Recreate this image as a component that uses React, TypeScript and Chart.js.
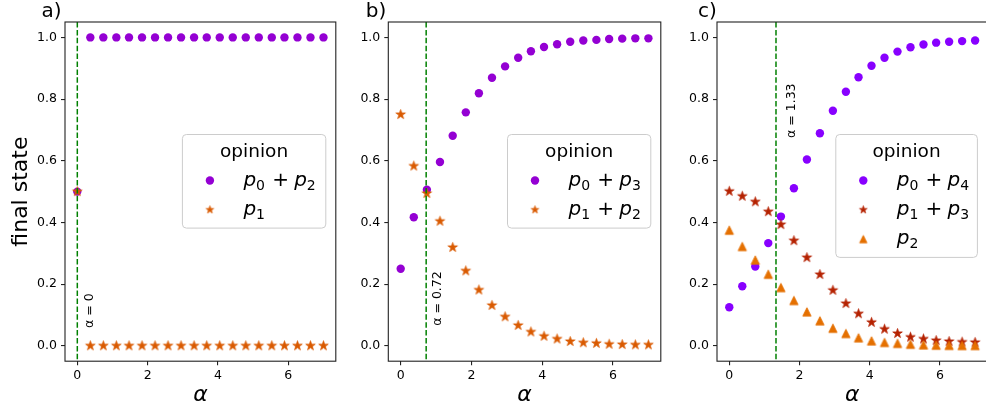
import React, { useEffect, useRef } from "react";
import { Chart, registerables } from "chart.js";
Chart.register(...registerables);

const FONT = '"DejaVu Sans", "Liberation Sans", sans-serif';

// ---- data ----
const ALPHA = [0, 0.37, 0.74, 1.11, 1.47, 1.84, 2.21, 2.58, 2.95, 3.32, 3.68, 4.05, 4.42, 4.79, 5.16, 5.53, 5.89, 6.26, 6.63, 7.0];

const A_P0_P2 = [0.5, 1, 1, 1, 1, 1, 1, 1, 1, 1, 1, 1, 1, 1, 1, 1, 1, 1, 1, 1];
const A_P1 = [0.5, 0, 0, 0, 0, 0, 0, 0, 0, 0, 0, 0, 0, 0, 0, 0, 0, 0, 0, 0];

const B_P0_P3 = [0.25, 0.417, 0.506, 0.596, 0.681, 0.757, 0.819, 0.869, 0.906, 0.934, 0.955, 0.969, 0.978, 0.986, 0.99, 0.992, 0.995, 0.996, 0.997, 0.997];
const B_P1_P2 = [0.75, 0.583, 0.494, 0.404, 0.319, 0.243, 0.181, 0.131, 0.094, 0.066, 0.045, 0.031, 0.022, 0.014, 0.01, 0.008, 0.005, 0.004, 0.003, 0.003];

const C_P0_P4 = [0.125, 0.193, 0.257, 0.333, 0.419, 0.511, 0.604, 0.689, 0.762, 0.824, 0.871, 0.908, 0.934, 0.954, 0.968, 0.977, 0.983, 0.986, 0.988, 0.99];
const C_P1_P3 = [0.501, 0.485, 0.467, 0.435, 0.393, 0.341, 0.286, 0.231, 0.18, 0.137, 0.104, 0.076, 0.054, 0.04, 0.028, 0.022, 0.017, 0.014, 0.012, 0.011];
const C_P2 = [0.375, 0.322, 0.278, 0.232, 0.189, 0.147, 0.11, 0.081, 0.057, 0.04, 0.026, 0.016, 0.011, 0.008, 0.005, 0.003, 0.002, 0.0015, 0.001, 0.001];

const X_TICKS = [0, 2, 4, 6];
const Y_TICKS = [0, 0.2, 0.4, 0.6, 0.8, 1.0];
const X_MIN = -0.35;
const X_MAX = 7.35;
const Y_MIN = -0.05;
const Y_MAX = 1.05;

const VLINES = [0, 0.72, 1.33];
const VLINE_LABELS = ["α = 0", "α = 0.72", "α = 1.33"];
const VLINE_TEXT_X = [0.35, 1.06, 1.78];
const VLINE_TEXT_Y = [0.058, 0.065, 0.674];

const PANEL_LABELS = ["a)", "b)", "c)"];
const LEGEND_TITLE = "opinion";
const LEGEND_A = ["p_0 + p_2", "p_1"];
const LEGEND_B = ["p_0 + p_3", "p_1 + p_2"];
const LEGEND_C = ["p_0 + p_4", "p_1 + p_3", "p_2"];

const PURPLE_AB = "#9400D3";
const ORANGE_AB = "#D95A00";
const PURPLE_C = "#8800FF";
const RED_C = "#B52200";
const ORANGE_C = "#E57000";

type Marker = "circle" | "star" | "triangle";
type SeriesSpec = { values: number[]; color: string; marker: Marker; order: number };

function markerCanvas(kind: Marker, color: string, r: number) {
  const s = Math.ceil(r * 2 + 3);
  const c = document.createElement("canvas");
  c.width = s;
  c.height = s;
  const g = c.getContext("2d")!;
  const cx = s / 2;
  const cy = s / 2;
  g.beginPath();
  if (kind === "star") {
    for (let k = 0; k < 10; k++) {
      const rad = k % 2 === 0 ? r : r * 0.381966;
      const a = -Math.PI / 2 + (k * Math.PI) / 5;
      g.lineTo(cx + rad * Math.cos(a), cy + rad * Math.sin(a));
    }
  } else if (kind === "triangle") {
    g.moveTo(cx, cy - r);
    g.lineTo(cx - r, cy + r);
    g.lineTo(cx + r, cy + r);
  } else {
    g.arc(cx, cy, r, 0, Math.PI * 2);
  }
  g.closePath();
  g.fillStyle = color;
  g.fill();
  g.strokeStyle = color;
  g.lineWidth = 0.8;
  g.stroke();
  return c;
}

function drawMath(ctx: CanvasRenderingContext2D, text: string, x: number, y: number, size: number) {
  const terms = text.split(" + ");
  let cx = x;
  terms.forEach((t, i) => {
    if (i > 0) {
      ctx.font = `${size}px ${FONT}`;
      cx += size * 0.36;
      ctx.fillText("+", cx, y);
      cx += ctx.measureText("+").width + size * 0.26;
    }
    const [base, sub] = t.split("_");
    ctx.font = `italic ${size}px ${FONT}`;
    ctx.fillText(base, cx, y);
    cx += ctx.measureText(base).width;
    if (sub) {
      const ss = size * 0.7;
      ctx.font = `${ss}px ${FONT}`;
      ctx.fillText(sub, cx, y + size * 0.2);
      cx += ctx.measureText(sub).width;
    }
  });
}

type PanelProps = {
  idx: number;
  left: number;
  width: number;
  yW: number;
  padR: number;
  labelDx: number;
  legendW: number;
  series: SeriesSpec[];
  legend: string[];
};

function Panel(p: PanelProps) {
  const ref = useRef<HTMLCanvasElement>(null);
  useEffect(() => {
    const idx = p.idx;
    const images = p.series.map((s) =>
      s.marker === "circle" ? "circle" : markerCanvas(s.marker, s.color, s.marker === "star" ? 5 : 4.2)
    );
    const legendImages = p.series.map((s) =>
      s.marker === "circle" ? null : markerCanvas(s.marker, s.color, s.marker === "star" ? 4 : 3.7)
    );
    const overlay = {
      id: "overlay" + idx,
      afterDatasetsDraw(chart: any) {
        const { ctx, chartArea: ca, scales } = chart;
        const x = scales.x;
        const y = scales.y;
        const lx = x.getPixelForValue(VLINES[idx]);
        ctx.save();
        ctx.beginPath();
        ctx.rect(ca.left, ca.top, ca.right - ca.left, ca.bottom - ca.top);
        ctx.clip();
        ctx.strokeStyle = "#008000";
        ctx.lineWidth = 1.5;
        ctx.setLineDash([5.5, 2.4]);
        ctx.beginPath();
        ctx.moveTo(lx, ca.top);
        ctx.lineTo(lx, ca.bottom);
        ctx.stroke();
        ctx.restore();

        ctx.save();
        ctx.translate(x.getPixelForValue(VLINE_TEXT_X[idx]), y.getPixelForValue(VLINE_TEXT_Y[idx]));
        ctx.rotate(-Math.PI / 2);
        ctx.font = `12.5px ${FONT}`;
        ctx.fillStyle = "#000";
        ctx.textAlign = "left";
        ctx.textBaseline = "middle";
        ctx.fillText(VLINE_LABELS[idx], 0, 0);
        ctx.restore();
      },
      afterDraw(chart: any) {
        const { ctx, chartArea: ca } = chart;
        ctx.save();
        // frame
        ctx.strokeStyle = "#222";
        ctx.lineWidth = 1.1;
        ctx.strokeRect(ca.left, ca.top, ca.right - ca.left, ca.bottom - ca.top);

        // panel label
        ctx.font = `20px ${FONT}`;
        ctx.fillStyle = "#000";
        ctx.textAlign = "left";
        ctx.textBaseline = "alphabetic";
        ctx.fillText(PANEL_LABELS[idx], ca.left + p.labelDx, 17);

        // legend
        const n = p.legend.length;
        const bw = p.legendW;
        const bh = 35 + n * 29.3;
        const bx = ca.right - 10 - bw;
        const by = 134.5;
        ctx.beginPath();
        (ctx as any).roundRect(bx, by, bw, bh, 4);
        ctx.fillStyle = "rgba(255,255,255,0.8)";
        ctx.fill();
        ctx.strokeStyle = "#cccccc";
        ctx.lineWidth = 1;
        ctx.stroke();

        ctx.fillStyle = "#000";
        ctx.font = `18.5px ${FONT}`;
        ctx.textAlign = "center";
        ctx.fillText(LEGEND_TITLE, bx + bw / 2, by + 22.5);
        ctx.textAlign = "left";
        p.legend.forEach((lab, i) => {
          const my = by + 46 + i * 29.3;
          const mx = bx + 27.5;
          const s = p.series[i];
          const img = legendImages[i];
          if (img) {
            ctx.drawImage(img, mx - img.width / 2, my - img.height / 2);
          } else {
            ctx.beginPath();
            ctx.arc(mx, my, 4.2, 0, Math.PI * 2);
            ctx.fillStyle = s.color;
            ctx.fill();
          }
          ctx.fillStyle = "#000";
          drawMath(ctx, lab, bx + 61, my + 5, 20);
        });
        ctx.restore();
      },
    };

    const chart = new Chart(ref.current!, {
      type: "scatter",
      data: {
        datasets: p.series.map((s, i) => ({
          label: p.legend[i],
          data: ALPHA.map((a, j) => ({ x: a, y: s.values[j] })),
          pointStyle: images[i] as any,
          pointRadius: 4.2,
          pointHoverRadius: 4.2,
          backgroundColor: s.color,
          borderColor: s.color,
          borderWidth: 0,
          order: s.order,
        })),
      },
      options: {
        responsive: false,
        animation: false,
        devicePixelRatio: 1,
        layout: { padding: { top: 22, right: p.padR, left: 0, bottom: 0 } },
        plugins: { legend: { display: false }, tooltip: { enabled: false } },
        scales: {
          x: {
            type: "linear",
            min: X_MIN,
            max: X_MAX,
            afterBuildTicks: (s: any) => {
              s.ticks = X_TICKS.map((v) => ({ value: v }));
            },
            afterFit: (s: any) => {
              s.height = 412 - 361.2;
            },
            ticks: {
              font: { family: FONT, size: 12.5 },
              color: "#000",
              padding: 3,
              maxRotation: 0,
              autoSkip: false,
              callback: (v: any) => String(v),
            },
            grid: { display: true, drawOnChartArea: false, drawTicks: true, tickLength: 4, color: "#222", lineWidth: 1.1 },
            border: { display: false },
            title: {
              display: true,
              text: "α",
              font: { family: FONT, size: 22, style: "italic" },
              color: "#000",
              padding: { top: 0, bottom: 4 },
            },
          },
          y: {
            type: "linear",
            min: Y_MIN,
            max: Y_MAX,
            afterBuildTicks: (s: any) => {
              s.ticks = Y_TICKS.map((v) => ({ value: v }));
            },
            afterFit: (s: any) => {
              s.width = p.yW;
            },
            ticks: {
              font: { family: FONT, size: 12.5 },
              color: "#000",
              padding: 4,
              autoSkip: false,
              callback: (v: any) => Number(v).toFixed(1),
            },
            grid: { display: true, drawOnChartArea: false, drawTicks: true, tickLength: 4, color: "#222", lineWidth: 1.1 },
            border: { display: false },
            title: {
              display: idx === 0,
              text: "final state",
              font: { family: FONT, size: 22 },
              color: "#000",
              padding: { top: 8, bottom: 0 },
            },
          },
        },
      },
      plugins: [overlay],
    } as any);
    return () => chart.destroy();
  }, []);
  return (
    <canvas
      ref={ref}
      width={p.width}
      height={412}
      style={{ position: "absolute", left: p.left, top: 0, width: p.width, height: 412 }}
    />
  );
}

export default function App() {
  const seriesA: SeriesSpec[] = [
    { values: A_P0_P2, color: PURPLE_AB, marker: "circle", order: 3 },
    { values: A_P1, color: ORANGE_AB, marker: "star", order: 2 },
  ];
  const seriesB: SeriesSpec[] = [
    { values: B_P0_P3, color: PURPLE_AB, marker: "circle", order: 3 },
    { values: B_P1_P2, color: ORANGE_AB, marker: "star", order: 2 },
  ];
  const seriesC: SeriesSpec[] = [
    { values: C_P0_P4, color: PURPLE_C, marker: "circle", order: 3 },
    { values: C_P1_P3, color: RED_C, marker: "star", order: 2 },
    { values: C_P2, color: ORANGE_C, marker: "triangle", order: 1 },
  ];
  return (
    <div
      style={{
        position: "fixed",
        left: 0,
        top: 0,
        width: 986,
        height: 412,
        overflow: "hidden",
        background: "#fff",
      }}
    >
      <Panel idx={0} left={0} width={340} yW={65} padR={2} labelDx={-23.5} legendW={143.4} series={seriesA} legend={LEGEND_A} />
      <Panel idx={1} left={340} width={326} yW={48.3} padR={5.2} labelDx={-22.5} legendW={143.3} series={seriesB} legend={LEGEND_B} />
      <Panel idx={2} left={670} width={330} yW={47} padR={12.6} labelDx={-19} legendW={141.6} series={seriesC} legend={LEGEND_C} />
    </div>
  );
}
